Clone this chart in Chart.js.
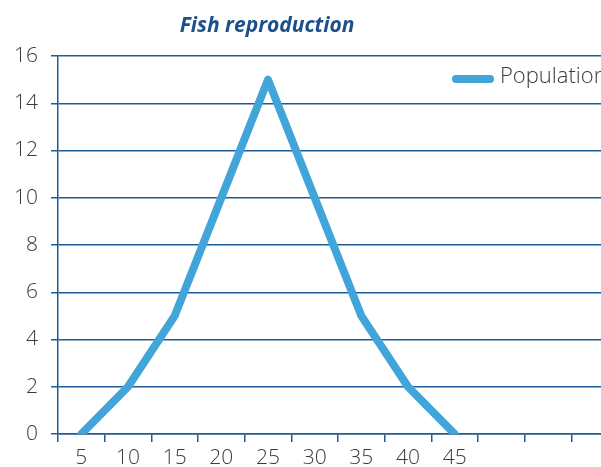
<!DOCTYPE html>
<html>
<head>
<meta charset="utf-8">
<script src="https://cdn.jsdelivr.net/npm/chart.js@4/dist/chart.umd.min.js"></script>
<style>
  html, body { margin: 0; padding: 0; background: #fff; overflow: hidden; }
  #wrap { width: 622px; height: 467px; }
</style>
</head>
<body>
<div id="wrap"><canvas id="c" width="622" height="467"></canvas></div>
<script>
// chart values
const categories = ['5', '10', '15', '20', '25', '30', '35', '40', '45', '', '', '']
const population = [0, 2, 5, 10, 15, 10, 5, 2, 0, null, null, null]
const seriesName = 'Population'
const chartTitle = 'Fish reproduction'
const yTicks = { min: 0, max: 16, step: 2 }

const axisBlue = '#1f5b95'
const lineBlue = '#41a5da'
const labelFont = { family: "'Open Sans', 'Noto Sans', sans-serif", size: 21, weight: '300' }

// title + inline legend, drawn at fixed spots like the original
const decorations = {
    id: 'decorations',
    afterDraw(chart) {
        const ctx = chart.ctx
        ctx.save()
        ctx.fillStyle = '#1c4f8c'
        ctx.font = "italic bold 21px 'Open Sans', 'Noto Sans', sans-serif"
        ctx.textAlign = 'center'
        ctx.textBaseline = 'middle'
        ctx.fillText(chartTitle, 267, 26)

        const ds = chart.data.datasets[0]
        ctx.strokeStyle = ds.borderColor
        ctx.lineWidth = 8
        ctx.lineCap = 'round'
        ctx.beginPath()
        ctx.moveTo(456, 79)
        ctx.lineTo(490, 79)
        ctx.stroke()
        ctx.fillStyle = '#3a3a3a'
        ctx.font = "300 22px 'Open Sans', 'Noto Sans', sans-serif"
        ctx.textAlign = 'left'
        ctx.fillText(ds.label, 500, 77)
        ctx.restore()
    }
}

new Chart(document.getElementById('c').getContext('2d'), {
    type: 'line',
    data: {
        labels: categories,
        datasets: [{
            label: seriesName,
            data: population,
            borderColor: lineBlue,
            backgroundColor: lineBlue,
            borderWidth: 8,
            borderJoinStyle: 'round',
            borderCapStyle: 'round',
            pointRadius: 0,
            tension: 0,
            spanGaps: false
        }]
    },
    options: {
        responsive: false,
        animation: false,
        events: [],
        layout: { padding: { top: 56, right: 4, left: 0, bottom: 0 } },
        plugins: {
            legend: { display: false },
            title: { display: false },
            tooltip: { enabled: false }
        },
        scales: {
            x: {
                offset: true,
                grid: {
                    offset: true,
                    drawOnChartArea: false,
                    drawTicks: true,
                    tickLength: 8,
                    color: axisBlue,
                    lineWidth: 1.5
                },
                border: { color: axisBlue, width: 1.5 },
                ticks: { color: '#3a3a3a', font: labelFont, padding: 3, maxRotation: 0, autoSkip: false },
                afterFit(scale) { scale.height = 33 }
            },
            y: {
                min: yTicks.min,
                max: yTicks.max,
                ticks: { stepSize: yTicks.step, color: '#3a3a3a', font: labelFont, padding: 13 },
                grid: { color: axisBlue, lineWidth: 1.5, tickLength: 7 },
                border: { color: axisBlue, width: 1.5 },
                afterFit(scale) { scale.width = 58 }
            }
        }
    },
    plugins: [decorations]
})
</script>
</body>
</html>
